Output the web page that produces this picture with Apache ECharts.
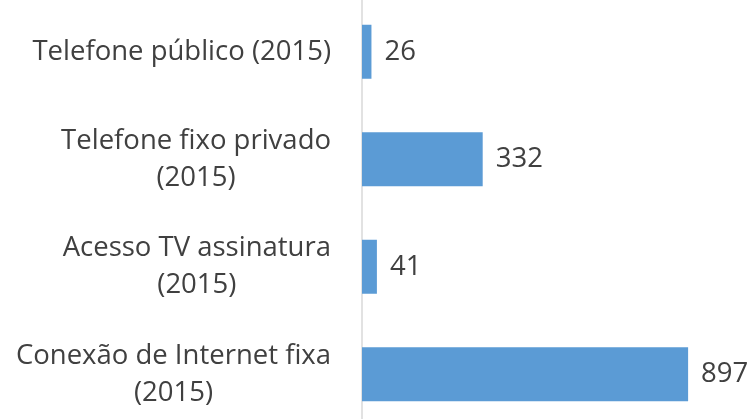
<!DOCTYPE html>
<html>
<head>
<meta charset="utf-8">
<script src="https://cdn.jsdelivr.net/npm/echarts@6/dist/echarts.min.js"></script>
<style>
  html, body { margin: 0; padding: 0; background: #ffffff; }
  #chart { width: 751px; height: 419px; }
</style>
</head>
<body>
<div id="chart"></div>
<script>
// Access indicators, 2015 (bottom-to-top order on the category axis)
const categories = [
  'Conexão de Internet fixa\n(2015)',
  'Acesso TV assinatura\n(2015)',
  'Telefone fixo privado\n(2015)',
  'Telefone público (2015)'
];
const values = [897, 41, 332, 26];

const FONT = '"Open Sans", "Noto Sans", sans-serif';
const TEXT_COLOR = '#404040';
const FONT_SIZE = 27.5;
const LINE_HEIGHT = 37;

const chart = echarts.init(document.getElementById('chart'), null, { renderer: 'canvas' });

chart.setOption({
  animation: false,
  grid: {
    left: 362, width: 389, top: -2, height: 430,
    containLabel: false,
    outerBoundsMode: 'none'
  },
  xAxis: {
    type: 'value',
    min: 0,
    max: 1070,
    show: false
  },
  yAxis: {
    type: 'category',
    data: categories,
    axisLine: { show: true, lineStyle: { color: '#d9d9d9', width: 1.5 } },
    axisTick: { show: false },
    splitLine: { show: false },
    axisLabel: {
      margin: 31,
      align: 'right',
      fontFamily: FONT,
      fontSize: FONT_SIZE,
      color: TEXT_COLOR,
      lineHeight: LINE_HEIGHT,
      // each line centred within the right-aligned label block
      formatter: function (v) {
        return v.split('\n').map(function (l) { return '{c|' + l + '}'; }).join('\n');
      },
      rich: {
        c: { align: 'center', fontFamily: FONT, fontSize: FONT_SIZE, color: TEXT_COLOR, lineHeight: LINE_HEIGHT }
      }
    }
  },
  series: [{
    type: 'bar',
    data: values,
    barWidth: 54,
    itemStyle: { color: '#5b9bd5' },
    label: {
      show: true,
      position: 'right',
      distance: 13,
      fontFamily: FONT,
      fontSize: FONT_SIZE,
      color: TEXT_COLOR
    }
  }]
});
</script>
</body>
</html>
